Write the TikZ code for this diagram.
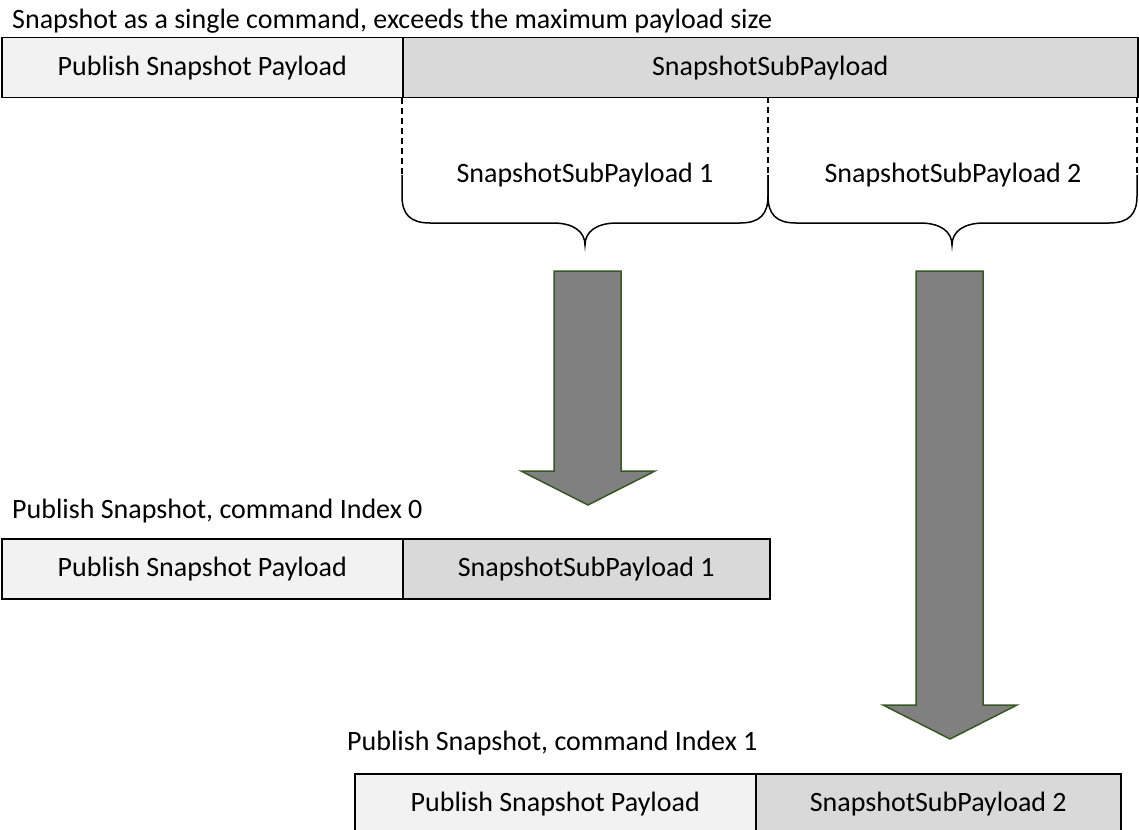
\documentclass[tikz,border=0pt]{standalone}
\usepackage{fontspec}
\setmainfont{Carlito}
\definecolor{lightbox}{HTML}{F2F2F2}
\definecolor{darkbox}{HTML}{D9D9D9}
\definecolor{arrowfill}{HTML}{808080}
\definecolor{arrowline}{HTML}{385723}
\begin{document}
\begin{tikzpicture}[x=1pt,y=-1pt,
  font=\fontsize{28}{34}\selectfont,
  cell/.style={draw=black, line width=1.5pt, inner sep=0pt, minimum height=60pt, anchor=north west},
  lightcell/.style={cell, fill=lightbox},
  darkcell/.style={cell, fill=darkbox},
  caption/.style={anchor=base west, inner sep=0pt},
  guide/.style={draw=black, line width=1.5pt, dash pattern=on 6pt off 4pt},
  bracepath/.style={draw=black, line width=1.5pt},
  blockarrow/.style={fill=arrowfill, draw=arrowline, line width=1.5pt, line join=miter}]
\useasboundingbox (0,0) rectangle (1139,829);
\clip (0,0) rectangle (1139,829);

% top bar
\node[caption] (cap) at (12,29) {Snapshot as a single command, exceeds the maximum payload size};
\node[lightcell, minimum width=401pt] (tl) at (1,37) {Publish Snapshot Payload};
\node[darkcell, minimum width=735pt] (tr) at (402,37) {SnapshotSubPayload};

% guide coordinates
\coordinate (g1) at (402,175);
\coordinate (g2) at (768,175);
\coordinate (g3) at (1137,175);
\coordinate (t2) at (768,97);
\coordinate (t3) at (1137,97);
\draw[guide] (tr.south west) -- (g1);
\draw[guide] (t2) -- (g2);
\draw[guide] (t3) -- (g3);

% braces
\draw[bracepath] (g1) -- (402,196) .. controls (402,214) and (410,223) .. (430,223)
  -- (553,223) .. controls (574,223) and (585,232) .. (585,245)
  .. controls (585,232) and (596,223) .. (617,223)
  -- (740,223) .. controls (760,223) and (768,214) .. (768,196) -- (g2);
\draw[bracepath] (g2) -- (768,196) .. controls (768,214) and (776,223) .. (796,223)
  -- (920,223) .. controls (941,223) and (952,232) .. (952,245)
  .. controls (952,232) and (963,223) .. (984,223)
  -- (1109,223) .. controls (1129,223) and (1137,214) .. (1137,196) -- (g3);
\node (s1) at (585,175) {SnapshotSubPayload 1};
\node (s2) at (953,175) {SnapshotSubPayload 2};

% block arrows
\draw[blockarrow] (554,271) -- (621,271) -- (621,471) -- (655,471) -- (588,505) -- (521,471) -- (554,471) -- cycle;
\draw[blockarrow] (916,271) -- (983,271) -- (983,705) -- (1017,705) -- (950,739) -- (883,705) -- (916,705) -- cycle;

% middle bar
\node[caption] (cap0) at (12,518) {Publish Snapshot, command Index 0};
\node[lightcell, minimum width=401pt] (ml) at (1,538) {Publish Snapshot Payload};
\node[darkcell, minimum width=367pt] (mr) at (402,538) {SnapshotSubPayload 1};

% bottom bar
\node[caption] (cap1) at (347,750) {Publish Snapshot, command Index 1};
\node[lightcell, minimum width=401pt] (bl) at (354,773) {Publish Snapshot Payload};
\node[darkcell, minimum width=365pt] (br) at (755,773) {SnapshotSubPayload 2};
\end{tikzpicture}
\end{document}
